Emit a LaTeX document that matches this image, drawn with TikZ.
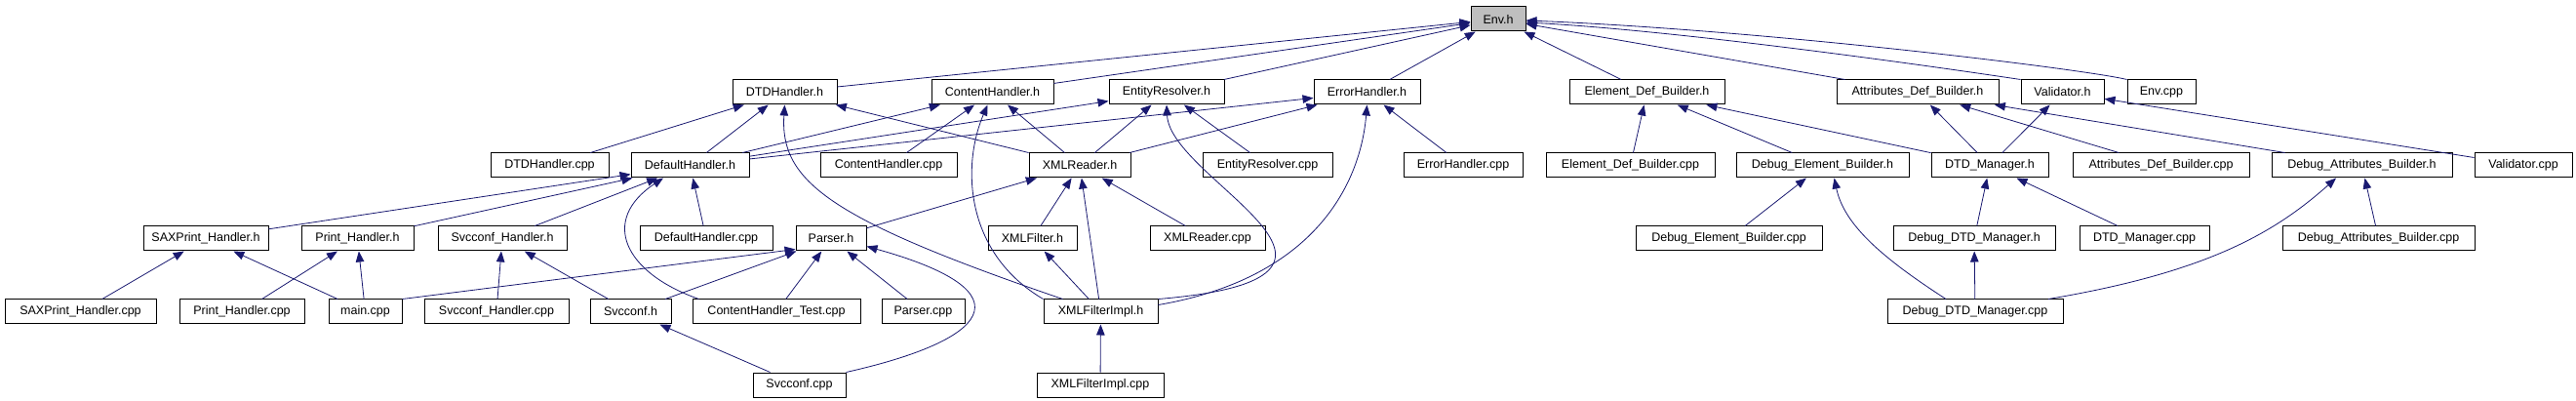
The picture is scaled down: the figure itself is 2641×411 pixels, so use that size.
\documentclass[tikz,border=0pt]{standalone}
\usepackage{fontspec}
\setmainfont{Liberation Sans}
\usepackage{tikz}
\usetikzlibrary{arrows.meta}

\definecolor{edgeblue}{HTML}{191970}

\begin{document}
\begin{tikzpicture}[x=1pt,y=-1pt,
	filebox/.style={draw=black,line width=1pt,fill=white,minimum height=25pt,inner sep=0pt,font=\fontsize{12.5}{14}\selectfont},
	incl/.style={draw=edgeblue,line width=0.8pt,-{Triangle[length=11pt,width=8.5pt]}}]
			\useasboundingbox (0,0) rectangle (2641,411);

			\node[filebox,minimum width=56pt,fill=gray!50] (envh) at (1536,19.5) {Env.h};

			\node[filebox,minimum width=107pt] (dtdh) at (804.5,94.5) {DTDHandler.h};
			\node[filebox,minimum width=125pt] (conth) at (1017.5,94.5) {ContentHandler.h};
			\node[filebox,minimum width=118pt] (entityh) at (1196,94.5) {EntityResolver.h};
			\node[filebox,minimum width=109pt] (errh) at (1401.5,94.5) {ErrorHandler.h};
			\node[filebox,minimum width=159pt] (elemh) at (1688.5,94.5) {Element\_Def\_Builder.h};
			\node[filebox,minimum width=166pt] (attrh) at (1966,94.5) {Attributes\_Def\_Builder.h};
			\node[filebox,minimum width=85pt] (valh) at (2114.5,94.5) {Validator.h};
			\node[filebox,minimum width=70pt] (envcpp) at (2216,94.5) {Env.cpp};

			\node[filebox,minimum width=121pt] (dtdcpp) at (563.5,169.5) {DTDHandler.cpp};
			\node[filebox,minimum width=121pt] (defh) at (707.5,169.5) {DefaultHandler.h};
			\node[filebox,minimum width=140pt] (contcpp) at (911,169.5) {ContentHandler.cpp};
			\node[filebox,minimum width=104pt] (xmlrh) at (1107,169.5) {XMLReader.h};
			\node[filebox,minimum width=133pt] (entitycpp) at (1299.5,169.5) {EntityResolver.cpp};
			\node[filebox,minimum width=122pt] (errcpp) at (1500,169.5) {ErrorHandler.cpp};
			\node[filebox,minimum width=173pt] (elemcpp) at (1671.5,169.5) {Element\_Def\_Builder.cpp};
			\node[filebox,minimum width=177pt] (debelemh) at (1868.5,169.5) {Debug\_Element\_Builder.h};
			\node[filebox,minimum width=120pt] (dtdmh) at (2040,169.5) {DTD\_Manager.h};
			\node[filebox,minimum width=181pt] (attrcpp) at (2215.5,169.5) {Attributes\_Def\_Builder.cpp};
			\node[filebox,minimum width=185pt] (debattrh) at (2421.5,169.5) {Debug\_Attributes\_Builder.h};
			\node[filebox,minimum width=100pt] (valcpp) at (2587,169.5) {Validator.cpp};

			\node[filebox,minimum width=128pt] (saxh) at (211,244.5) {SAXPrint\_Handler.h};
			\node[filebox,minimum width=115pt] (printh) at (366.5,244.5) {Print\_Handler.h};
			\node[filebox,minimum width=132pt] (svch) at (515,244.5) {Svcconf\_Handler.h};
			\node[filebox,minimum width=136pt] (defcpp) at (724,244.5) {DefaultHandler.cpp};
			\node[filebox,minimum width=72pt] (parserh) at (852,244.5) {Parser.h};
			\node[filebox,minimum width=91pt] (xmlfh) at (1058.5,244.5) {XMLFilter.h};
			\node[filebox,minimum width=118pt] (xmlrcpp) at (1238,244.5) {XMLReader.cpp};
			\node[filebox,minimum width=191pt] (debelemcpp) at (1772.5,244.5) {Debug\_Element\_Builder.cpp};
			\node[filebox,minimum width=166pt] (debdtdh) at (2024,244.5) {Debug\_DTD\_Manager.h};
			\node[filebox,minimum width=133pt] (dtdmcpp) at (2198.5,244.5) {DTD\_Manager.cpp};
			\node[filebox,minimum width=197pt] (debattrcpp) at (2438.5,244.5) {Debug\_Attributes\_Builder.cpp};

			\node[filebox,minimum width=155pt] (saxcpp) at (82.5,319.5) {SAXPrint\_Handler.cpp};
			\node[filebox,minimum width=128pt] (printcpp) at (248,319.5) {Print\_Handler.cpp};
			\node[filebox,minimum width=75pt] (maincpp) at (374.5,319.5) {main.cpp};
			\node[filebox,minimum width=148pt] (svchcpp) at (509,319.5) {Svcconf\_Handler.cpp};
			\node[filebox,minimum width=83pt] (svcconfh) at (646.5,319.5) {Svcconf.h};
			\node[filebox,minimum width=172pt] (cttest) at (796,319.5) {ContentHandler\_Test.cpp};
			\node[filebox,minimum width=85pt] (parsercpp) at (946.5,319.5) {Parser.cpp};
			\node[filebox,minimum width=117pt] (xmlfih) at (1128.5,319.5) {XMLFilterImpl.h};
			\node[filebox,minimum width=180pt] (debdtdcpp) at (2025,319.5) {Debug\_DTD\_Manager.cpp};

			\node[filebox,minimum width=95pt] (svccpp) at (819.5,394.5) {Svcconf.cpp};
			\node[filebox,minimum width=130pt] (xmlficpp) at (1128,394.5) {XMLFilterImpl.cpp};

			\draw[incl] (dtdh) -- (envh);
			\draw[incl] (conth) -- (envh);
			\draw[incl] (entityh) -- (envh);
			\draw[incl] (errh) -- (envh);
			\draw[incl] (elemh) -- (envh);
			\draw[incl] (attrh) -- (envh);
			\draw[incl] (valh.north west) .. controls +(-120,-18) and +(150,8) .. ([yshift=-3.5pt]envh.east);
			\draw[incl] (envcpp.north west) .. controls +(-40,-10) and +(250,10) .. ([yshift=-1.5pt]envh.east);

			\draw[incl] (dtdcpp) -- (dtdh);
			\draw[incl] (defh) -- (dtdh);
			\draw[incl] (xmlrh) -- (dtdh);
			\draw[incl] ([xshift=20pt]xmlfih.north west) .. controls +(-240,-82) and +(-5,78) .. (dtdh.south);
			\draw[incl] (defh) -- (conth);
			\draw[incl] (contcpp) -- (conth);
			\draw[incl] (xmlrh) -- (conth);
			\draw[incl] (xmlfih.north west) .. controls +(-80,-47) and +(-27,63) .. ([xshift=-5pt]conth.south);
			\draw[incl] (defh) -- (entityh);
			\draw[incl] (xmlrh) -- (entityh);
			\draw[incl] (entitycpp) -- (entityh);
			\draw[incl] (xmlfih.north east) .. controls +(263,-22) and +(4,78) .. (entityh.south);
			\draw[incl] (defh) -- (errh);
			\draw[incl] (xmlrh) -- (errh);
			\draw[incl] (errcpp) -- (errh);
			\draw[incl] ([yshift=-6pt]xmlfih.north east) .. controls +(163,-28) and +(-6.5,78) .. (errh.south);

			\draw[incl] (elemcpp) -- (elemh);
			\draw[incl] (debelemh) -- (elemh);
			\draw[incl] (dtdmh) -- (elemh);
			\draw[incl] (dtdmh) -- (attrh);
			\draw[incl] (attrcpp) -- (attrh);
			\draw[incl] (debattrh) -- (attrh);
			\draw[incl] (dtdmh) -- (valh);
			\draw[incl] (valcpp) -- (valh);
			\draw[incl] (debdtdh) -- (dtdmh);
			\draw[incl] (dtdmcpp) -- (dtdmh);
			\draw[incl] (debelemcpp) -- (debelemh);
			\draw[incl] ([xshift=-30pt]debdtdcpp.north) .. controls +(-65,-42) and +(10,48) .. ([xshift=12pt]debelemh.south);
			\draw[incl] ([xshift=75pt]debdtdcpp.north) .. controls +(160,-27) and +(-65,58) .. ([xshift=-26.5pt]debattrh.south);
			\draw[incl] (debattrcpp) -- (debattrh);
			\draw[incl] (debdtdcpp) -- (debdtdh);

			\draw[incl] (saxh) -- (defh);
			\draw[incl] (printh) -- (defh);
			\draw[incl] (svch) -- (defh);
			\draw[incl] (defcpp) -- (defh);
			\draw[incl] ([xshift=7pt]cttest.north west) .. controls +(-77,-27) and +(-65,43) .. ([xshift=-27.5pt]defh.south);
			\draw[incl] (maincpp.north east) -- ([yshift=2pt]parserh.south west);
			\draw[incl] (svcconfh) -- (parserh);
			\draw[incl] (cttest) -- (parserh);
			\draw[incl] (parsercpp) -- (parserh);
			\draw[incl] (svccpp.north east) .. controls +(143,-32) and +(172,48) .. ([yshift=5pt]parserh.south east);
			\draw[incl] (parserh) -- (xmlrh);
			\draw[incl] (xmlfh) -- (xmlrh);
			\draw[incl] (xmlfih) -- (xmlrh);
			\draw[incl] (xmlrcpp) -- (xmlrh);
			\draw[incl] (xmlfih) -- (xmlfh);
			\draw[incl] (xmlficpp) -- (xmlfih);
			\draw[incl] (saxcpp) -- (saxh);
			\draw[incl] (maincpp) -- (saxh);
			\draw[incl] (printcpp) -- (printh);
			\draw[incl] (maincpp) -- (printh);
			\draw[incl] (svchcpp) -- (svch);
			\draw[incl] (svcconfh) -- (svch);
			\draw[incl] (svccpp) -- (svcconfh);
	\end{tikzpicture}
\end{document}
